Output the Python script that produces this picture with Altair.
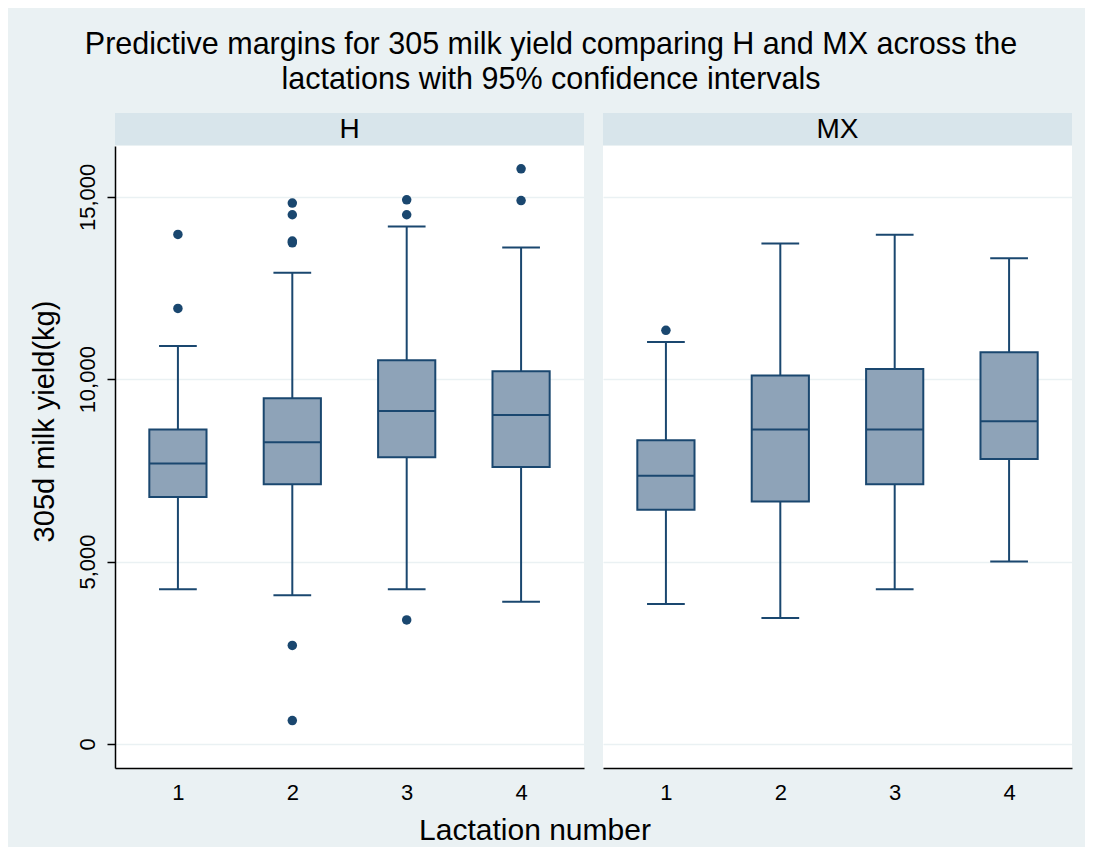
import altair as alt
import pandas as pd

# ---- data ----
lactation = [1, 2, 3, 4]

h_low = [4240, 4080, 4240, 3900]
h_q1 = [6770, 7120, 7860, 7590]
h_median = [7690, 8270, 9130, 9020]
h_q3 = [8620, 9480, 10520, 10220]
h_high = [10910, 12920, 14190, 13610]

mx_low = [3840, 3450, 4240, 5000]
mx_q1 = [6420, 6650, 7120, 7810]
mx_median = [7350, 8620, 8620, 8850]
mx_q3 = [8330, 10100, 10280, 10740]
mx_high = [11020, 13720, 13960, 13320]

h_out_lact = [1, 1, 2, 2, 2, 2, 2, 2, 3, 3, 3, 4, 4]
h_out_val = [13970, 11940, 14830, 14510, 13790, 13740, 2700, 640, 14920, 14510, 3400, 15770, 14900]
mx_out_lact = [1]
mx_out_val = [11340]

groups = ["H", "MX"]
title_lines = ["Predictive margins for 305 milk yield comparing H and MX across the",
               "lactations with 95% confidence intervals"]
y_title = "305d milk yield(kg)"
x_title = "Lactation number"
y_ticks = [0, 5000, 10000, 15000]

# ---- style ----
FONT = "Liberation Sans"
NAVY = "#1A476F"
FILL = "#8EA3B8"
BG = "#EAF1F3"
HEAD = "#D8E5EB"
W, H = 469, 622
BOX_HALF = 0.25
CAP_HALF = 0.165
YDOM = [-660, 16395]
XDOM = [0.45, 4.55]


def frames(low, q1, med, q3, high, out_l, out_v):
    box = pd.DataFrame({"lact": lactation, "low": low, "q1": q1, "med": med, "q3": q3, "high": high})
    box["left"] = box["lact"] - BOX_HALF
    box["right"] = box["lact"] + BOX_HALF
    box["cl"] = box["lact"] - CAP_HALF
    box["cr"] = box["lact"] + CAP_HALF
    out = pd.DataFrame({"lact": out_l, "val": out_v})
    return box, out


def panel(name, box, out, first):
    xs = alt.Scale(domain=XDOM, nice=False, zero=False)
    ys = alt.Scale(domain=YDOM, nice=False, zero=False)
    xaxis = alt.Axis(values=lactation, format="d", ticks=False, title=None, labelFontSize=22,
                     labelFont=FONT, labelColor="#000000", labelPadding=14, grid=False,
                     domainColor="#000000", domainWidth=1.5)
    if first:
        yaxis = alt.Axis(values=y_ticks, format=",d", title=y_title, titleFontSize=29, titleFont=FONT,
                         titleFontWeight="normal", titleColor="#000000", titlePadding=17,
                         titleY=275,
                         labelAngle=-90, labelAlign="center", labelBaseline="bottom",
                         labelFontSize=22, labelFont=FONT, labelColor="#000000", labelPadding=8,
                         tickSize=8, tickColor="#000000", tickWidth=1.5,
                         domainColor="#000000", domainWidth=1.5,
                         grid=True, gridColor=BG, gridWidth=1.5)
    else:
        yaxis = alt.Axis(values=y_ticks, title=None, labels=False, ticks=False, domain=False,
                         minExtent=0, maxExtent=0,
                         grid=True, gridColor=BG, gridWidth=1.5)

    base = alt.Chart(box)
    whisk_lo = base.mark_rule(color=NAVY, strokeWidth=2).encode(
        x=alt.X("lact:Q", scale=xs, axis=xaxis), y=alt.Y("low:Q", scale=ys, axis=yaxis), y2="q1:Q")
    whisk_hi = base.mark_rule(color=NAVY, strokeWidth=2).encode(
        x=alt.X("lact:Q", scale=xs), y=alt.Y("q3:Q", scale=ys), y2="high:Q")
    cap_lo = base.mark_rule(color=NAVY, strokeWidth=2).encode(
        x=alt.X("cl:Q", scale=xs), x2="cr:Q", y=alt.Y("low:Q", scale=ys))
    cap_hi = base.mark_rule(color=NAVY, strokeWidth=2).encode(
        x=alt.X("cl:Q", scale=xs), x2="cr:Q", y=alt.Y("high:Q", scale=ys))
    boxes = base.mark_rect(fill=FILL, stroke=NAVY, strokeWidth=2).encode(
        x=alt.X("left:Q", scale=xs), x2="right:Q", y=alt.Y("q1:Q", scale=ys), y2="q3:Q")
    med = base.mark_rule(color=NAVY, strokeWidth=2).encode(
        x=alt.X("left:Q", scale=xs), x2="right:Q", y=alt.Y("med:Q", scale=ys))
    pts = alt.Chart(out).mark_circle(color=NAVY, opacity=1, size=90).encode(
        x=alt.X("lact:Q", scale=xs), y=alt.Y("val:Q", scale=ys))

    head_df = pd.DataFrame({"g": [name]})
    head_rect = alt.Chart(head_df).mark_rect(fill=HEAD).encode(
        x=alt.value(0), x2=alt.value(W), y=alt.value(-33), y2=alt.value(-1))
    head_text = alt.Chart(head_df).mark_text(font=FONT, fontSize=28, color="#000000", baseline="middle").encode(
        x=alt.value(W / 2), y=alt.value(-16), text="g:N")

    layers = [head_rect, head_text, whisk_lo, whisk_hi, cap_lo, cap_hi, boxes, med, pts]
    if first:
        xt = alt.Chart(pd.DataFrame({"t": [x_title]})).mark_text(
            font=FONT, fontSize=30, color="#000000", baseline="middle").encode(
            x=alt.value(420), y=alt.value(H + 63), text="t:N")
        layers.append(xt)
    return alt.layer(*layers).properties(width=W, height=H)


hb, ho = frames(h_low, h_q1, h_median, h_q3, h_high, h_out_lact, h_out_val)
mb, mo = frames(mx_low, mx_q1, mx_median, mx_q3, mx_high, mx_out_lact, mx_out_val)

chart = alt.hconcat(
    panel(groups[0], hb, ho, True),
    panel(groups[1], mb, mo, False),
    spacing=19,
    bounds="flush",
).resolve_scale(y="independent").properties(
    title=alt.Title(title_lines, font=FONT, fontSize=30.5, fontWeight="normal", color="#000000",
                    anchor="middle", offset=18, lineHeight=35),
    background=BG,
    padding={"left": 21, "top": 21, "right": 13, "bottom": 1},
).configure_view(fill="#FFFFFF", stroke=None)

chart.save("out.html", embed_options={"renderer": "svg", "actions": False})
